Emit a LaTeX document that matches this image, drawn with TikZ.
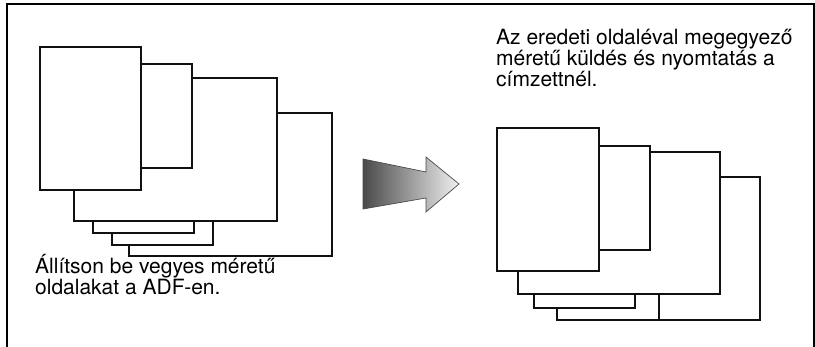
\documentclass[tikz,border=0pt]{standalone}
\usepackage{fontspec}
\setmainfont{TeX Gyre Heros}
\usepackage{tikz}
\usetikzlibrary{positioning}
\definecolor{inkline}{HTML}{111111}
\definecolor{arrowdark}{HTML}{4A4A4A}
\definecolor{arrowlight}{HTML}{F0F0F0}
\tikzset{
  sheetbox/.style={draw=inkline,fill=white,line width=2.2pt,inner sep=0pt,anchor=north west},
  frameline/.style={draw=black,line width=2.4pt},
  caption/.style={align=left,inner sep=0pt,anchor=base west}
}
\newcommand{\sheet}[5]{
  \node[sheetbox,minimum width={#4-#2},minimum height={#5-#3}] (#1) at (#2,#3) {};
}

\begin{document}
\begin{tikzpicture}[x=1pt,y=-1pt]
  \useasboundingbox (0,0) rectangle (815,347);
  \draw[frameline] (7,347) -- (7,4) -- (814,4) -- (814,347);
  \sheet{inF}{128}{112}{331}{255}
  \sheet{inE}{111}{90}{212}{244}
  \sheet{inD}{92}{85}{193}{232}
  \sheet{inC}{73}{77}{276}{220}
  \sheet{inB}{140}{63}{191}{167}
  \sheet{inA}{39}{46}{140}{189}
  \node[caption,font=\fontsize{21}{16.6}\selectfont] (intext) at (35,294.5) {Állítson be vegyes méretű\\oldalakat a ADF-en.};
  \shadedraw[left color=arrowdark,right color=arrowlight,draw=arrowdark,line width=0.7pt]
    (363,159) -- (426,172) -- (426,157) -- (459,184) -- (426,212) -- (426,198) -- (363,209) -- cycle;
  \sheet{outF}{556}{176}{759}{319}
  \sheet{outE}{556}{160}{658}{319}
  \sheet{outD}{533}{160}{634}{307}
  \sheet{outC}{517}{151}{719}{293}
  \sheet{outB}{598}{145}{649}{249}
  \sheet{outA}{496}{127}{598}{270}
  \node[caption,font=\fontsize{21}{17.7}\selectfont] (outtext) at (496,86.5) {Az eredeti oldaléval megegyező\\méretű küldés és nyomtatás a\\címzettnél.};
\end{tikzpicture}
\end{document}
